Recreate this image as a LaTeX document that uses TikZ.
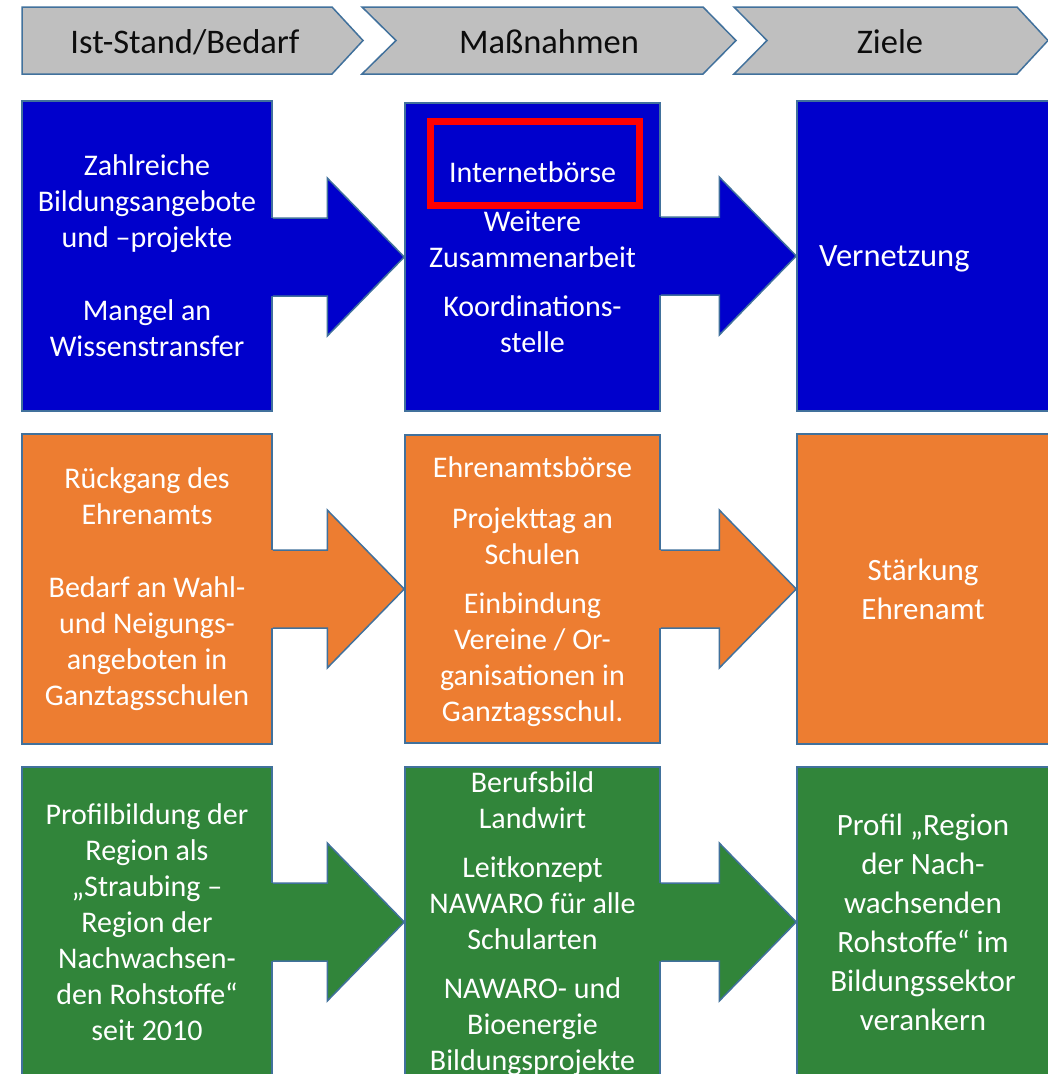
\documentclass[tikz,border=0pt]{standalone}
\usepackage{fontspec}
\setmainfont{Carlito}
\usetikzlibrary{calc}
\definecolor{bblue}{HTML}{0000CC}
\definecolor{borange}{HTML}{ED7D31}
\definecolor{bgreen}{HTML}{31853A}
\definecolor{edgeblue}{HTML}{41719C}
\definecolor{hgray}{HTML}{BFBFBF}
\definecolor{htext}{HTML}{0D0D0D}
\newcommand\mybody{\fontsize{30}{36}\selectfont}
\newcommand\mybig{\fontsize{31}{39}\selectfont}
\newcommand\myvern{\fontsize{32.5}{39}\selectfont}
\newcommand\myhead{\fontsize{34.5}{40}\selectfont}
\tikzset{
  box/.style={draw=edgeblue, line width=1.5pt, inner sep=0pt, text=white, align=center, font=\mybody},
  leftcol/.style={box, minimum width=250pt, minimum height=310pt},
  midcol/.style={box, minimum width=255pt, minimum height=308pt},
  rightcol/.style={box, minimum width=252pt, minimum height=310pt},
  chev/.style={draw=edgeblue, line width=1.5pt, fill=hgray, line join=miter},
  headtxt/.style={anchor=base, font=\myhead, text=htext, inner sep=0pt},
  arrline/.style={draw=edgeblue, line width=1.5pt, line join=miter},
  hilite/.style={draw=red, line width=7pt, minimum width=209pt, minimum height=84pt, inner sep=0pt}
}
\newcommand\blockarr[3]{%
  \coordinate (aS) at (#1.east |- #2.west);
  \coordinate (aT) at (#2.west);
  \fill[#3] ($(aS)+(-3,-39)$) -- ($(aT)+(-77,-39)$) -- ($(aT)+(-77,-79)$) -- (aT) -- ($(aT)+(-77,79)$) -- ($(aT)+(-77,39)$) -- ($(aS)+(-3,39)$) -- cycle;
  \draw[arrline] ($(aS)+(0,-39)$) -- ($(aT)+(-77,-39)$) -- ($(aT)+(-77,-79)$) -- (aT) -- ($(aT)+(-77,79)$) -- ($(aT)+(-77,39)$) -- ($(aS)+(0,39)$);
}
\begin{document}
\begin{tikzpicture}[x=1pt,y=-1pt]
\useasboundingbox (0,0) rectangle (1048,1074);
\clip (0,0) rectangle (1048,1074);
\fill[white] (0,0) rectangle (1048,1074);

% header chevrons
\draw[chev] (22,7) -- (332,7) -- (363,40.5) -- (332,74) -- (22,74) -- cycle;
\draw[chev] (362,7) -- (703,7) -- (736,40.5) -- (703,74) -- (362,74) -- (396,40.5) -- cycle;
\draw[chev] (734,7) -- (1017,7) -- (1048,40.5) -- (1017,74) -- (734,74) -- (767,40.5) -- cycle;
\node[headtxt] (h1) at (185,53) {Ist-Stand/Bedarf};
\node[headtxt] (h2) at (549,53) {Maßnahmen};
\node[headtxt] (h3) at (890,53) {Ziele};

% row 1 (blue)
\node[leftcol, fill=bblue] (b1) at (147,256) {Zahlreiche\\Bildungsangebote\\und –projekte\\[37pt]Mangel an\\Wissenstransfer};
\node[midcol, fill=bblue] (b2) at (532.5,257) {Internetbörse\\[13pt]Weitere\\Zusammenarbeit\\[13pt]Koordinations-\\stelle};
\node[rightcol, fill=bblue] (b3) at (923,256) {};
\node[anchor=west, text=white, font=\myvern, inner sep=0pt] (t3) at (819,259) {Vernetzung};

% row 2 (orange)
\node[leftcol, fill=borange] (o1) at (147,589) {Rückgang des\\Ehrenamts\\[37pt]Bedarf an Wahl-\\und Neigungs-\\angeboten in\\Ganztagsschulen};
\node[midcol, fill=borange] (o2) at (532.5,589) {};
\node[box, draw=none, fill=none, inner sep=0pt] (o2t) at (532.5,592) {Ehrenamtsbörse\\[15pt]Projekttag an\\Schulen\\[13pt]Einbindung\\Vereine / Or-\\ganisationen in\\Ganztagsschul.};
\node[rightcol, fill=borange, font=\mybig] (o3) at (923,589) {Stärkung\\Ehrenamt};

% row 3 (green)
\node[leftcol, fill=bgreen] (g1) at (147,922) {Profilbildung der\\Region als\\„Straubing –\\Region der\\Nachwachsen-\\den Rohstoffe“\\seit 2010};
\node[midcol, fill=bgreen, minimum height=310pt] (g2) at (532.5,922) {};
\node[box, draw=none, fill=none, inner sep=0pt] (g2t) at (532.5,924) {Berufsbild\\Landwirt\\[13pt]Leitkonzept\\NAWARO für alle\\Schularten\\[13pt]NAWARO- und\\Bioenergie\\Bildungsprojekte};
\node[rightcol, fill=bgreen, font=\mybig] (g3) at (923,922) {Profil „Region\\der Nach-\\wachsenden\\Rohstoffe“ im\\Bildungssektor\\verankern};

% block arrows
\blockarr{b1}{b2}{bblue}
\blockarr{b2}{b3}{bblue}
\blockarr{o1}{o2}{borange}
\blockarr{o2}{o3}{borange}
\blockarr{g1}{g2}{bgreen}
\blockarr{g2}{g3}{bgreen}

% highlight
\node[hilite] (hl) at (535,163.5) {};
\end{tikzpicture}
\end{document}
